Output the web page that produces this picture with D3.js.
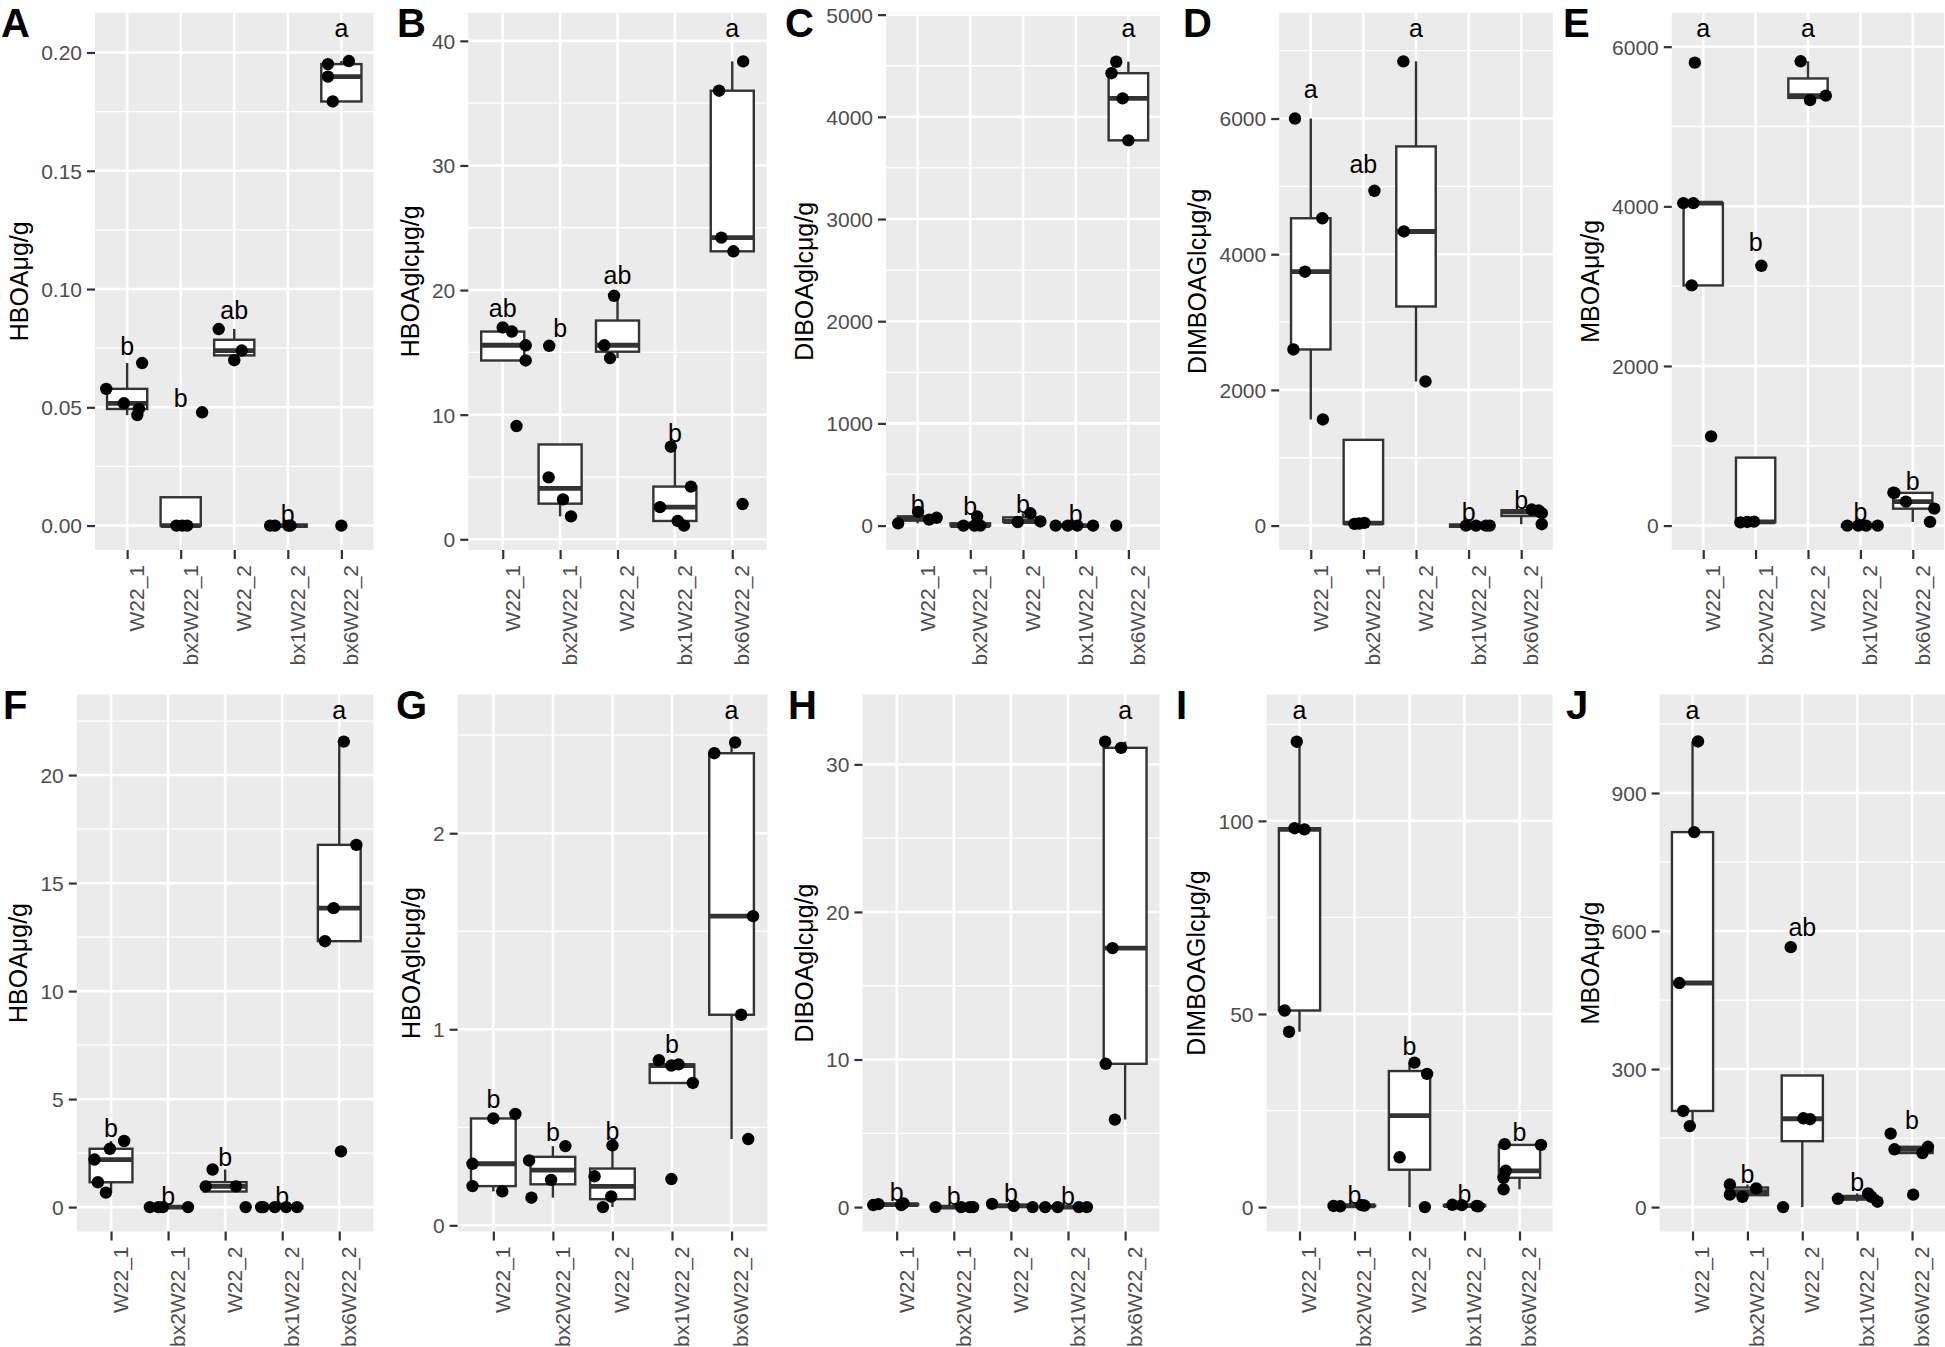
<!DOCTYPE html>
<html><head><meta charset="utf-8">
<script src="https://cdn.jsdelivr.net/npm/d3@7"></script>
<style>
body{margin:0;background:#fff}
svg{display:block}
text{font-family:"Liberation Sans",Arial,Helvetica,sans-serif}
</style>
</head><body>
<svg id="chart" width="1945" height="1347"></svg>
<script>
// ---------------- DATA ----------------
const groups = ["W22_1", "bx2W22_1", "W22_2", "bx1W22_2", "bx6W22_2"];
const panelIds = ["A", "B", "C", "D", "E", "F", "G", "H", "I", "J"];
const yTitles = ["HBOAμg/g", "HBOAglcμg/g", "DIBOAglcμg/g", "DIMBOAGlcμg/g", "MBOAμg/g",
                 "HBOAμg/g", "HBOAglcμg/g", "DIBOAglcμg/g", "DIMBOAGlcμg/g", "MBOAμg/g"];

// A: HBOA (row 1)
const A_values = [[0.0578, 0.0687, 0.0517, 0.0493, 0.0467], [0, 0, 0, 0.0479], [0.0831, 0.0740, 0.0699], [0, 0, 0, 0], [0.1951, 0.1964, 0.1898, 0.1793, 0]];
const A_jitter = [[-0.39, 0.28, -0.06, 0.22, 0.19], [-0.08, 0.03, 0.12, 0.40], [-0.29, 0.14, 0.0], [-0.33, -0.24, 0.01, 0.05], [-0.25, 0.14, -0.25, -0.16, 0.0]];
const A_letters = ["b", "b", "ab", "b", "a"];
const A_letterY = [0.072, 0.0502, 0.0875, 0.001, 0.2065];
const A_ticks = [0, 0.05, 0.10, 0.15, 0.20];

// B: HBOAglc (row 1)
const B_values = [[17.0, 16.67, 15.57, 14.35, 9.09], [15.53, 4.97, 3.2, 1.84], [19.54, 15.57, 14.54], [7.43, 4.23, 2.58, 1.47, 1.1], [36.0, 38.35, 24.21, 23.11, 2.83]];
const B_jitter = [[0.0, 0.16, 0.40, 0.40, 0.24], [-0.19, -0.2, 0.05, 0.19], [-0.06, -0.23, -0.13], [-0.07, 0.28, -0.26, 0.05, 0.16], [-0.23, 0.19, -0.19, 0.02, 0.18]];
const B_letters = ["ab", "b", "ab", "b", "a"];
const B_letterY = [17.85, 16.2, 20.5, 7.84, 40.3];
const B_ticks = [0, 10, 20, 30, 40];

// C: DIBOAglc (row 1)
const C_values = [[22, 134, 58, 76], [0, 89, 0, 0], [35, 120, 40], [0, 0, 0, 0], [4539, 4427, 4181, 3770, 0]];
const C_jitter = [[-0.37, 0.01, 0.22, 0.36], [-0.13, 0.13, 0.08, 0.19], [-0.1, 0.14, 0.33], [-0.38, -0.15, 0.03, 0.33], [-0.23, -0.32, -0.11, 0.0, -0.23]];
const C_letters = ["b", "b", "b", "b", "a"];
const C_letterY = [121, 103, 121, 22, 4780];
const C_ticks = [0, 1000, 2000, 3000, 4000, 5000];

// D: DIMBOAGlc (row 1)
const D_values = [[6000, 4530, 3742, 2596, 1564], [25, 30, 40, 4935], [6843, 4335, 2124], [0, 0, 0, 0], [236, 222, 182, 20]];
const D_jitter = [[-0.3, 0.22, -0.11, -0.33, 0.23], [-0.17, -0.08, 0.02, 0.21], [-0.24, -0.23, 0.18], [-0.05, 0.14, 0.33, 0.40], [0.2, 0.33, 0.39, 0.39]];
const D_letters = ["a", "ab", "a", "b", "b"];
const D_letterY = [6304, 5191, 7200, 67, 250];
const D_ticks = [0, 2000, 4000, 6000];

// E: MBOA (row 1)
const E_values = [[5800, 4040, 4040, 3009, 1118], [40, 45, 50, 3255], [5817, 5330, 5387], [0, 0, 0, 0], [413, 300, 212, 46, 410]];
const E_jitter = [[-0.16, -0.38, -0.19, -0.22, 0.15], [-0.29, -0.16, -0.03, 0.11], [-0.14, 0.04, 0.34], [-0.25, -0.04, 0.11, 0.33], [-0.37, -0.13, 0.41, 0.33, -0.35]];
const E_letters = ["a", "b", "a", "b", "b"];
const E_letterY = [6120, 3439, 6120, 57, 441];
const E_ticks = [0, 2000, 4000, 6000];

// F: HBOA (row 2)
const F_values = [[3.06, 2.70, 2.2, 1.15, 0.67], [0, 0, 0, 0], [1.74, 0.96, 0.96, 0], [0, 0, 0, 0, 0], [21.55, 16.77, 13.84, 12.31, 2.58]];
const F_jitter = [[0.23, -0.02, -0.29, -0.23, -0.09], [-0.32, -0.17, -0.09, 0.35], [-0.22, -0.34, 0.19, 0.36], [-0.37, -0.33, -0.13, 0.07, 0.26], [0.08, 0.3, -0.1, -0.25, 0.03]];
const F_letters = ["b", "b", "b", "b", "a"];
const F_letterY = [3.25, 0.1, 1.88, 0.1, 22.6];
const F_ticks = [0, 5, 10, 15, 20];

// G: HBOAglc (row 2)
const G_values = [[0.568, 0.545, 0.314, 0.2, 0.173], [0.404, 0.331, 0.232, 0.141], [0.408, 0.25, 0.147, 0.093], [0.842, 0.815, 0.821, 0.726, 0.236], [2.463, 2.408, 1.577, 1.074, 0.44]];
const G_jitter = [[0.37, 0.0, -0.35, -0.35, 0.15], [0.21, -0.4, -0.03, -0.36], [0.0, -0.3, -0.02, -0.16], [-0.22, -0.01, 0.11, 0.35, -0.01], [0.06, -0.29, 0.36, 0.16, 0.28]];
const G_letters = ["b", "b", "b", "b", "a"];
const G_letterY = [0.6, 0.43, 0.436, 0.878, 2.583];
const G_ticks = [0, 1, 2];

// H: DIBOAglc (row 2)
const H_values = [[0.14, 0.2, 0.14, 0.25], [0, 0, 0, 0], [0.22, 0.08, 0], [0, 0, 0, 0], [31.54, 31.12, 17.55, 9.71, 5.93]];
const H_jitter = [[-0.41, -0.32, 0.08, 0.12], [-0.32, 0.13, 0.28, 0.34], [-0.33, 0.05, 0.38], [-0.4, -0.18, 0.19, 0.33], [-0.35, -0.07, -0.22, -0.34, -0.18]];
const H_letters = ["b", "b", "b", "b", "a"];
const H_letterY = [0.39, 0.14, 0.34, 0.14, 33.08];
const H_ticks = [0, 10, 20, 30];

// I: DIMBOAGlc (row 2)
const I_values = [[120.5, 98.1, 97.8, 50.9, 45.4], [0.3, 0.2, 0.5, 0.4], [37.4, 34.5, 12.9, 0], [0.6, 0.5, 0.3, 0.2], [16.3, 16.1, 9.4, 7.59, 4.6]];
const I_jitter = [[-0.05, -0.09, 0.09, -0.27, -0.19], [-0.38, -0.26, 0.13, 0.18], [0.09, 0.32, -0.18, 0.28], [-0.22, -0.05, 0.22, 0.25], [-0.27, 0.39, -0.25, -0.29, -0.29]];
const I_letters = ["a", "b", "b", "b", "b"];
const I_letterY = [126.4, 0.85, 39.3, 1.07, 17.1];
const I_ticks = [0, 50, 100];

// J: MBOA (row 2)
const J_values = [[1012, 815, 487, 209, 176], [49, 27, 22.4, 40.4], [565, 193, 191, 0], [18, 29.6, 22.4, 11.7], [159.7, 125.6, 117.5, 131, 27]];
const J_jitter = [[0.1, 0.03, -0.24, -0.17, -0.05], [-0.32, -0.32, -0.09, 0.16], [-0.21, 0.02, 0.14, -0.35], [-0.35, 0.2, 0.26, 0.37], [-0.39, -0.32, 0.19, 0.29, 0.02]];
const J_letters = ["a", "b", "ab", "b", "b"];
const J_letterY = [1061, 52, 590, 34, 168.7];
const J_ticks = [0, 300, 600, 900];

const panelData = {
  A: {values: A_values, jitter: A_jitter, letters: A_letters, letterY: A_letterY, ticks: A_ticks},
  B: {values: B_values, jitter: B_jitter, letters: B_letters, letterY: B_letterY, ticks: B_ticks},
  C: {values: C_values, jitter: C_jitter, letters: C_letters, letterY: C_letterY, ticks: C_ticks},
  D: {values: D_values, jitter: D_jitter, letters: D_letters, letterY: D_letterY, ticks: D_ticks},
  E: {values: E_values, jitter: E_jitter, letters: E_letters, letterY: E_letterY, ticks: E_ticks},
  F: {values: F_values, jitter: F_jitter, letters: F_letters, letterY: F_letterY, ticks: F_ticks},
  G: {values: G_values, jitter: G_jitter, letters: G_letters, letterY: G_letterY, ticks: G_ticks},
  H: {values: H_values, jitter: H_jitter, letters: H_letters, letterY: H_letterY, ticks: H_ticks},
  I: {values: I_values, jitter: I_jitter, letters: I_letters, letterY: I_letterY, ticks: I_ticks},
  J: {values: J_values, jitter: J_jitter, letters: J_letters, letterY: J_letterY, ticks: J_ticks}
};

// ---------------- LAYOUT ----------------
const rows = [
  {top: 12.7, bottom: 550, letterBase: 36.7},
  {top: 694.5, bottom: 1231.5, letterBase: 718.5}
];
const layout = {
  A: {l: 95, r: 373.5, row: 0, lx: 1},
  B: {l: 468.3, r: 766.7, row: 0, lx: 397},
  C: {l: 886, r: 1160, row: 0, lx: 785},
  D: {l: 1279.2, r: 1552.8, row: 0, lx: 1183},
  E: {l: 1671.8, r: 1944.2, row: 0, lx: 1563},
  F: {l: 76.8, r: 373.5, row: 1, lx: 3},
  G: {l: 457.6, r: 767.3, row: 1, lx: 396},
  H: {l: 862.4, r: 1159.4, row: 1, lx: 788},
  I: {l: 1266.5, r: 1552.5, row: 1, lx: 1176},
  J: {l: 1659.6, r: 1945, row: 1, lx: 1566}
};

const svg = d3.select("#chart");
const LINE = "#333333";

panelIds.forEach((id, k) => {
  const L = layout[id];
  const row = rows[L.row];
  const pd = panelData[id];
  const all = pd.values.flat().concat(pd.letterY);
  const [mn, mx] = d3.extent(all);
  const pad = (mx - mn) * 0.05;
  const lo = mn - pad, hi = mx + pad;
  const y = d3.scaleLinear().domain([lo, hi]).range([row.bottom, row.top]);
  const x = d3.scalePoint().domain(groups).range([L.l, L.r]).padding(0.6);
  const step = x.step();
  const fmt = id === "A" ? d3.format(".2f") : d3.format("d");

  const g = svg.append("g").attr("class", "panel-" + id);

  // background
  g.append("rect").attr("x", L.l).attr("y", row.top)
    .attr("width", L.r - L.l).attr("height", row.bottom - row.top)
    .attr("fill", "#EBEBEB");

  // minor grid
  const tstep = pd.ticks[1] - pd.ticks[0];
  const minors = [];
  for (let v = pd.ticks[0] - tstep / 2; v <= hi; v += tstep) if (v >= lo) minors.push(v);
  g.selectAll(".minor").data(minors).join("line")
    .attr("x1", L.l).attr("x2", L.r)
    .attr("y1", d => y(d)).attr("y2", d => y(d))
    .attr("stroke", "#fff").attr("stroke-width", 1.3);

  // major grid
  g.selectAll(".majorY").data(pd.ticks).join("line")
    .attr("x1", L.l).attr("x2", L.r)
    .attr("y1", d => y(d)).attr("y2", d => y(d))
    .attr("stroke", "#fff").attr("stroke-width", 2.6);
  g.selectAll(".majorX").data(groups).join("line")
    .attr("x1", d => x(d)).attr("x2", d => x(d))
    .attr("y1", row.top).attr("y2", row.bottom)
    .attr("stroke", "#fff").attr("stroke-width", 2.6);

  // boxplots
  const bw = step * 0.75;
  groups.forEach((grp, i) => {
    const vals = pd.values[i].slice().sort(d3.ascending);
    const q1 = d3.quantile(vals, 0.25), med = d3.quantile(vals, 0.5), q3 = d3.quantile(vals, 0.75);
    const iqr = q3 - q1;
    const upper = d3.max(vals.filter(v => v <= q3 + 1.5 * iqr));
    const lower = d3.min(vals.filter(v => v >= q1 - 1.5 * iqr));
    const cx = x(grp);
    g.append("line").attr("x1", cx).attr("x2", cx).attr("y1", y(q3)).attr("y2", y(upper))
      .attr("stroke", LINE).attr("stroke-width", 2.4);
    g.append("line").attr("x1", cx).attr("x2", cx).attr("y1", y(q1)).attr("y2", y(lower))
      .attr("stroke", LINE).attr("stroke-width", 2.4);
    g.append("rect").attr("x", cx - bw / 2).attr("y", y(q3))
      .attr("width", bw).attr("height", Math.max(0, y(q1) - y(q3)))
      .attr("fill", "#fff").attr("stroke", LINE).attr("stroke-width", 2.4);
    g.append("line").attr("x1", cx - bw / 2).attr("x2", cx + bw / 2)
      .attr("y1", y(med)).attr("y2", y(med))
      .attr("stroke", LINE).attr("stroke-width", 4.8);
  });

  // jittered points
  groups.forEach((grp, i) => {
    const pts = pd.values[i].map((v, j) => ({v, jit: pd.jitter[i][j]}));
    g.selectAll(null).data(pts).join("circle")
      .attr("cx", d => x(grp) + d.jit * step)
      .attr("cy", d => y(d.v))
      .attr("r", 6.2)
      .attr("fill", "#000");
  });

  // significance letters
  g.selectAll(null).data(groups).join("text")
    .attr("x", d => x(d))
    .attr("y", (d, i) => y(pd.letterY[i]))
    .attr("text-anchor", "middle")
    .attr("fill", "#000")
    .style("font-size", "25px")
    .text((d, i) => pd.letters[i]);

  // y axis
  const ya = g.append("g").attr("transform", `translate(${L.l},0)`)
    .call(d3.axisLeft(y).tickValues(pd.ticks).tickFormat(fmt).tickSize(8).tickPadding(5));
  ya.attr("font-size", null).attr("font-family", null);
  ya.select(".domain").remove();
  ya.selectAll(".tick line").attr("stroke", LINE).attr("stroke-width", 2.2);
  ya.selectAll(".tick text").attr("fill", "#4D4D4D").attr("dy", "0.35em").style("font-size", "21px");

  // x axis
  const xa = g.append("g").attr("transform", `translate(0,${row.bottom})`)
    .call(d3.axisBottom(x).tickSize(9).tickPadding(0));
  xa.attr("font-size", null).attr("font-family", null);
  xa.select(".domain").remove();
  xa.selectAll(".tick line").attr("stroke", LINE).attr("stroke-width", 2.2);
  xa.selectAll(".tick text")
    .attr("transform", "rotate(-90)")
    .attr("x", -15).attr("y", 0).attr("dy", "0.78em")
    .attr("text-anchor", "end")
    .attr("fill", "#4D4D4D")
    .style("font-size", "21px");

  // y title
  const bb = ya.node().getBBox();
  const tx = L.l + bb.x - 13;
  const ty = (row.top + row.bottom) / 2;
  g.append("text")
    .attr("transform", `translate(${tx},${ty}) rotate(-90)`)
    .attr("text-anchor", "middle")
    .attr("fill", "#000")
    .style("font-size", "25px")
    .text(yTitles[k]);

  // panel tag
  g.append("text")
    .attr("x", L.lx).attr("y", row.letterBase)
    .attr("fill", "#000")
    .style("font-size", "40px").style("font-weight", "bold")
    .text(id);
});
</script>
</body></html>
